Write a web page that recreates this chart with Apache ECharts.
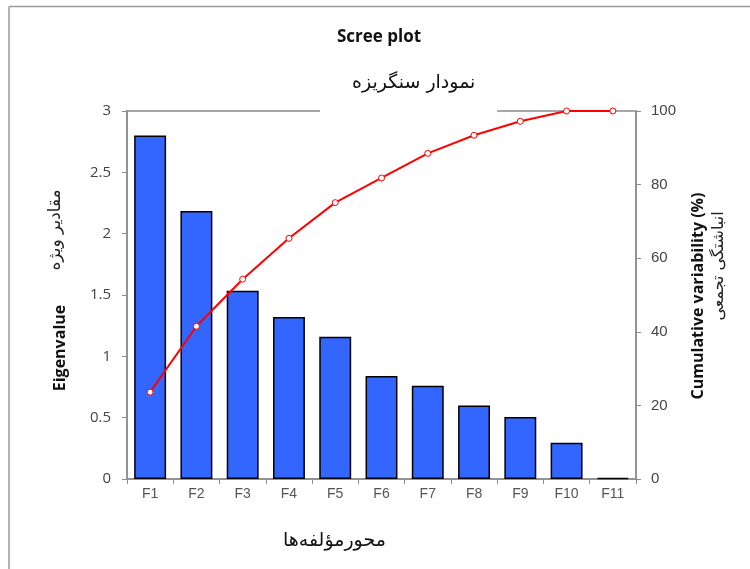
<!DOCTYPE html>
<html><head><meta charset="utf-8">
<script src="https://cdn.jsdelivr.net/npm/echarts@6/dist/echarts.min.js"></script>
<style>html,body{margin:0;padding:0;background:#fff}#c{width:750px;height:569px}</style>
</head><body><div id="c"></div>
<script>
const categories = ['F1','F2','F3','F4','F5','F6','F7','F8','F9','F10','F11'];
const eigenvalues = [2.80, 2.185, 1.535, 1.32, 1.16, 0.84, 0.76, 0.60, 0.505, 0.295, 0.01];
const cumulative = [23.6, 41.5, 54.3, 65.4, 75.1, 81.8, 88.5, 93.4, 97.2, 100, 100];
const leftTicks = [0, 0.5, 1, 1.5, 2, 2.5, 3];
const rightTicks = [0, 20, 40, 60, 80, 100];

const chart = echarts.init(document.getElementById('c'), null, {renderer:'canvas'});
const axisGray = '#8c8c8c';
chart.setOption({
  animation: false,
  backgroundColor: '#fff',
  grid: {left:127, right:114, top:111, bottom:90, show:true, borderColor:axisGray, borderWidth:1.5, containLabel:false},
  graphic: [
    {type:'rect', z:100, shape:{x:320, y:108, width:177, height:6}, style:{fill:'#fff'}},
    {type:'line', z:100, shape:{x1:9, y1:6.5, x2:750, y2:6.5}, style:{stroke:'#9a9a9a', lineWidth:1.5}},
    {type:'line', z:100, shape:{x1:9, y1:6.5, x2:9, y2:569}, style:{stroke:'#9a9a9a', lineWidth:1.5}},
    {type:'text', z:100, left:337, top:29, style:{text:'Scree plot', fill:'#111', font:'bold 17px "Open Sans", "Liberation Sans", sans-serif'}},
    {type:'text', z:100, left:352, top:74, style:{text:'نمودار سنگریزه', fill:'#111', font:'19px "DejaVu Sans", sans-serif'}},
    {type:'text', z:100, left:283, top:532, style:{text:'محورمؤلفه‌ها', fill:'#111', font:'19px "DejaVu Sans", sans-serif'}},
    {type:'text', z:100, x:60, y:348, rotation:Math.PI/2, style:{text:'Eigenvalue', fill:'#111', align:'center', verticalAlign:'middle', font:'bold 16px "Open Sans", "Liberation Sans", sans-serif'}},
    {type:'text', z:100, x:56, y:230, rotation:Math.PI/2, style:{text:'مقادیر ویژه', fill:'#222', align:'center', verticalAlign:'middle', font:'17px "DejaVu Sans", sans-serif'}},
    {type:'text', z:100, x:698, y:296, rotation:Math.PI/2, style:{text:'Cumulative variability (%)', fill:'#111', align:'center', verticalAlign:'middle', font:'bold 16px "Open Sans", "Liberation Sans", sans-serif'}},
    {type:'text', z:100, x:719, y:266, rotation:Math.PI/2, style:{text:'انباشتگی تجمعی', fill:'#222', align:'center', verticalAlign:'middle', font:'16px "DejaVu Sans", sans-serif'}}
  ],
  xAxis: {
    type:'category', data:categories, boundaryGap:true,
    axisLine:{show:true, lineStyle:{color:axisGray, width:1.5}},
    axisTick:{show:true, length:5, lineStyle:{color:axisGray}},
    axisLabel:{color:'#555', fontSize:14, margin:8, fontFamily:'"Liberation Sans", Arial, sans-serif'},
    splitLine:{show:false}
  },
  yAxis: [
    {type:'value', min:0, max:3, interval:0.5, position:'left',
     axisLine:{show:true, lineStyle:{color:axisGray, width:1.5}},
     axisTick:{show:true, length:5, lineStyle:{color:axisGray}},
     axisLabel:{color:'#444', fontSize:15, margin:16, fontFamily:'"Open Sans", "Liberation Sans", sans-serif',
       formatter: v => String(leftTicks.find(t => Math.abs(t - v) < 1e-9) ?? v)},
     splitLine:{show:false}},
    {type:'value', min:0, max:100, interval:20, position:'right',
     axisLine:{show:true, lineStyle:{color:axisGray, width:1.5}},
     axisTick:{show:true, length:5, lineStyle:{color:axisGray}},
     axisLabel:{color:'#444', fontSize:15, margin:15, fontFamily:'"Liberation Sans", Arial, sans-serif',
       formatter: v => String(rightTicks.find(t => Math.abs(t - v) < 1e-9) ?? v)},
     splitLine:{show:false}}
  ],
  series: [
    {type:'bar', data:eigenvalues, yAxisIndex:0, barWidth:'69%',
     itemStyle:{color:'#3366ff', borderColor:'#000', borderWidth:1.5}},
    {type:'line', data:cumulative, yAxisIndex:1, symbol:'circle', symbolSize:6,
     lineStyle:{color:'#ff0000', width:2},
     itemStyle:{color:'#fff', borderColor:'#ff0000', borderWidth:1}, z:5}
  ]
});
</script></body></html>
